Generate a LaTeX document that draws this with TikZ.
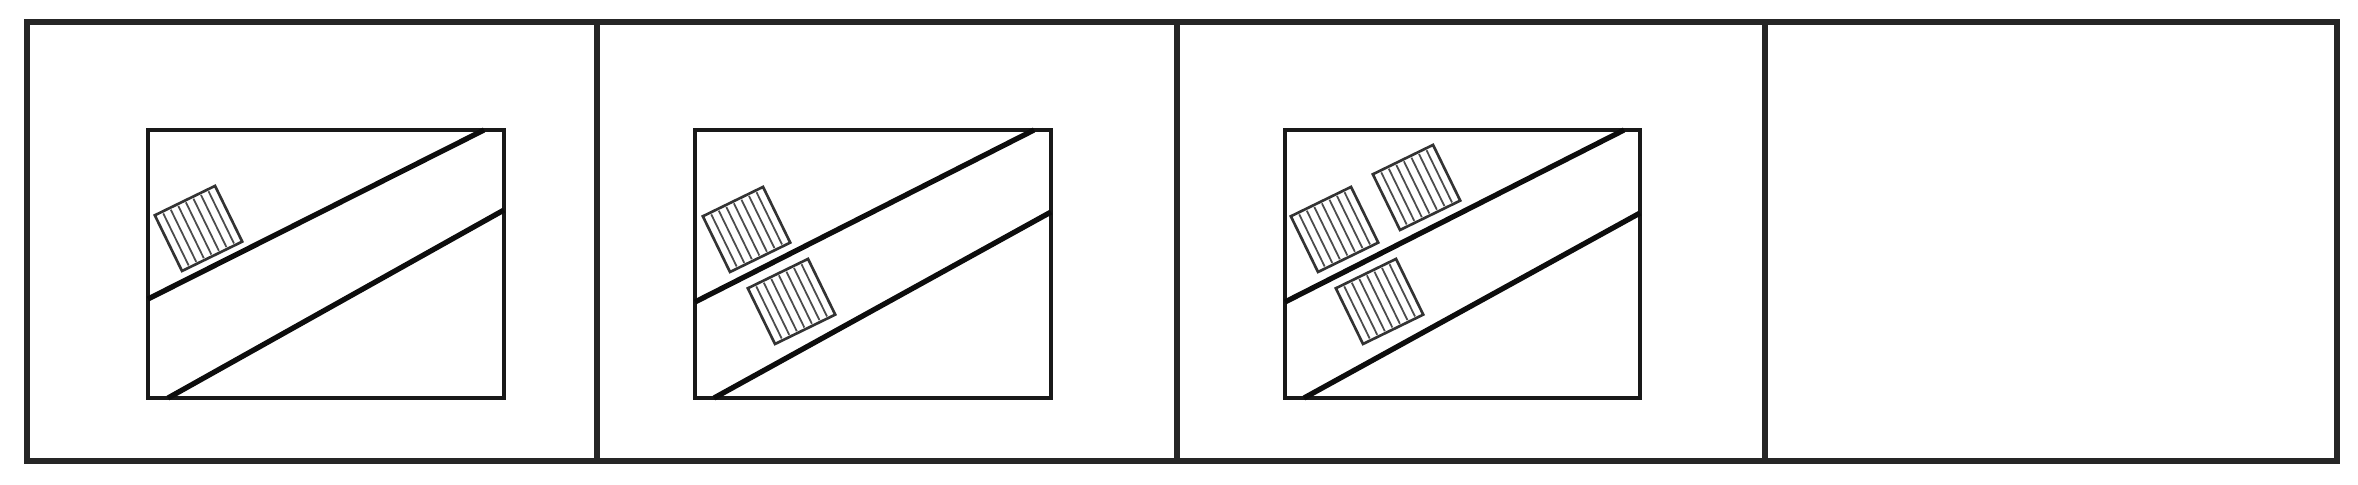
\documentclass[tikz,border=0pt]{standalone}
\begin{document}
\begin{tikzpicture}[x=0.01cm,y=-0.01cm,
  frame/.style={draw=black!85,line width=1.6pt},
  innerbox/.style={draw=black!90,line width=1.05pt},
  track/.style={draw=black!95,line width=1.5pt},
  blockline/.style={draw=black!80,line width=0.75pt,fill=white},
  hatchline/.style={draw=black!70,line width=0.5pt},
  block/.pic={
    \draw[blockline] (0,0) rectangle (67,-62);
    \foreach \i in {1,...,7} \draw[hatchline] (\i*8.4,-2) -- (\i*8.4,-60);
  }]
\useasboundingbox (0,0) rectangle (2358,485);
\fill[white] (0,0) rectangle (2358,485);
% outer frame and dividers
\draw[frame] (27,22) rectangle (2337,461);
\foreach \x in {597,1177,1765} \draw[frame] (\x,22) -- (\x,461);
% panel 1
\draw[innerbox] (148,130) rectangle (504,398);
\draw[track] (148,299) -- (484,130);
\draw[track] (168,398) -- (504,210);
\path (182,271) pic[rotate=26] {block};
% panel 2
\draw[innerbox] (695,130) rectangle (1051,398);
\draw[track] (695,302) -- (1034,130);
\draw[track] (714,398) -- (1051,212);
\path (730,272) pic[rotate=26] {block};
\path (775,344) pic[rotate=26] {block};
% panel 3
\draw[innerbox] (1285,130) rectangle (1640,398);
\draw[track] (1285,302) -- (1624,130);
\draw[track] (1304,398) -- (1640,213);
\path (1318,272) pic[rotate=26] {block};
\path (1400,230) pic[rotate=26] {block};
\path (1363,344) pic[rotate=26] {block};
\end{tikzpicture}
\end{document}
